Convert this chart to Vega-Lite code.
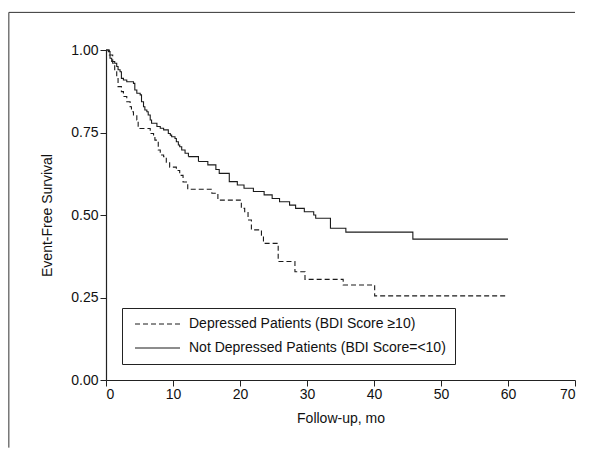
{
  "$schema": "https://vega.github.io/schema/vega-lite/v6.json",
  "width": 469,
  "height": 330,
  "autosize": {"type": "none"},
  "padding": {"left": 106, "top": 50, "right": 27, "bottom": 75},
  "background": "white",
  "config": {
    "view": {"stroke": null},
    "font": "Liberation Sans",
    "axis": {"labelFont": "Liberation Sans", "titleFont": "Liberation Sans", "labelColor": "#111", "titleColor": "#111", "titleFontWeight": "normal", "domainColor": "#222", "tickColor": "#222", "grid": false},
    "legend": {"labelFont": "Liberation Sans"}
  },
  "datasets": {
    "curves": [
      {"g": "Depressed Patients (BDI Score ≥10)", "t": 0, "s": 1.0},
      {"g": "Depressed Patients (BDI Score ≥10)", "t": 0.5, "s": 0.985},
      {"g": "Depressed Patients (BDI Score ≥10)", "t": 1.0, "s": 0.96},
      {"g": "Depressed Patients (BDI Score ≥10)", "t": 1.3, "s": 0.934},
      {"g": "Depressed Patients (BDI Score ≥10)", "t": 1.6, "s": 0.919},
      {"g": "Depressed Patients (BDI Score ≥10)", "t": 1.8, "s": 0.889},
      {"g": "Depressed Patients (BDI Score ≥10)", "t": 2.3, "s": 0.874},
      {"g": "Depressed Patients (BDI Score ≥10)", "t": 2.6, "s": 0.859},
      {"g": "Depressed Patients (BDI Score ≥10)", "t": 3.1, "s": 0.843},
      {"g": "Depressed Patients (BDI Score ≥10)", "t": 3.6, "s": 0.828},
      {"g": "Depressed Patients (BDI Score ≥10)", "t": 3.8, "s": 0.813},
      {"g": "Depressed Patients (BDI Score ≥10)", "t": 4.1, "s": 0.803},
      {"g": "Depressed Patients (BDI Score ≥10)", "t": 4.6, "s": 0.788},
      {"g": "Depressed Patients (BDI Score ≥10)", "t": 4.8, "s": 0.762},
      {"g": "Depressed Patients (BDI Score ≥10)", "t": 6.6, "s": 0.747},
      {"g": "Depressed Patients (BDI Score ≥10)", "t": 7.1, "s": 0.737},
      {"g": "Depressed Patients (BDI Score ≥10)", "t": 7.3, "s": 0.727},
      {"g": "Depressed Patients (BDI Score ≥10)", "t": 7.8, "s": 0.697},
      {"g": "Depressed Patients (BDI Score ≥10)", "t": 8.1, "s": 0.682},
      {"g": "Depressed Patients (BDI Score ≥10)", "t": 8.6, "s": 0.677},
      {"g": "Depressed Patients (BDI Score ≥10)", "t": 9.0, "s": 0.66},
      {"g": "Depressed Patients (BDI Score ≥10)", "t": 9.5, "s": 0.645},
      {"g": "Depressed Patients (BDI Score ≥10)", "t": 10.5, "s": 0.635},
      {"g": "Depressed Patients (BDI Score ≥10)", "t": 11.0, "s": 0.62},
      {"g": "Depressed Patients (BDI Score ≥10)", "t": 11.5, "s": 0.6},
      {"g": "Depressed Patients (BDI Score ≥10)", "t": 12.2, "s": 0.578},
      {"g": "Depressed Patients (BDI Score ≥10)", "t": 15.8, "s": 0.566},
      {"g": "Depressed Patients (BDI Score ≥10)", "t": 16.7, "s": 0.545},
      {"g": "Depressed Patients (BDI Score ≥10)", "t": 20.2, "s": 0.52},
      {"g": "Depressed Patients (BDI Score ≥10)", "t": 20.7, "s": 0.51},
      {"g": "Depressed Patients (BDI Score ≥10)", "t": 21.2, "s": 0.485},
      {"g": "Depressed Patients (BDI Score ≥10)", "t": 21.7, "s": 0.455},
      {"g": "Depressed Patients (BDI Score ≥10)", "t": 23.2, "s": 0.439},
      {"g": "Depressed Patients (BDI Score ≥10)", "t": 23.5, "s": 0.414},
      {"g": "Depressed Patients (BDI Score ≥10)", "t": 25.7, "s": 0.359},
      {"g": "Depressed Patients (BDI Score ≥10)", "t": 28.2, "s": 0.328},
      {"g": "Depressed Patients (BDI Score ≥10)", "t": 29.7, "s": 0.305},
      {"g": "Depressed Patients (BDI Score ≥10)", "t": 35.4, "s": 0.288},
      {"g": "Depressed Patients (BDI Score ≥10)", "t": 40.1, "s": 0.255},
      {"g": "Depressed Patients (BDI Score ≥10)", "t": 60, "s": 0.255},
      {"g": "Not Depressed Patients (BDI Score=<10)", "t": 0, "s": 1.0},
      {"g": "Not Depressed Patients (BDI Score=<10)", "t": 0.35, "s": 0.995},
      {"g": "Not Depressed Patients (BDI Score=<10)", "t": 0.6, "s": 0.975},
      {"g": "Not Depressed Patients (BDI Score=<10)", "t": 0.85, "s": 0.965},
      {"g": "Not Depressed Patients (BDI Score=<10)", "t": 1.3, "s": 0.96},
      {"g": "Not Depressed Patients (BDI Score=<10)", "t": 1.6, "s": 0.95},
      {"g": "Not Depressed Patients (BDI Score=<10)", "t": 1.8, "s": 0.94},
      {"g": "Not Depressed Patients (BDI Score=<10)", "t": 2.1, "s": 0.934},
      {"g": "Not Depressed Patients (BDI Score=<10)", "t": 2.3, "s": 0.914},
      {"g": "Not Depressed Patients (BDI Score=<10)", "t": 2.6, "s": 0.909},
      {"g": "Not Depressed Patients (BDI Score=<10)", "t": 3.1, "s": 0.904},
      {"g": "Not Depressed Patients (BDI Score=<10)", "t": 4.1, "s": 0.899},
      {"g": "Not Depressed Patients (BDI Score=<10)", "t": 4.3, "s": 0.879},
      {"g": "Not Depressed Patients (BDI Score=<10)", "t": 4.6, "s": 0.869},
      {"g": "Not Depressed Patients (BDI Score=<10)", "t": 5.1, "s": 0.864},
      {"g": "Not Depressed Patients (BDI Score=<10)", "t": 5.3, "s": 0.843},
      {"g": "Not Depressed Patients (BDI Score=<10)", "t": 5.6, "s": 0.828},
      {"g": "Not Depressed Patients (BDI Score=<10)", "t": 5.8, "s": 0.818},
      {"g": "Not Depressed Patients (BDI Score=<10)", "t": 6.1, "s": 0.813},
      {"g": "Not Depressed Patients (BDI Score=<10)", "t": 6.3, "s": 0.803},
      {"g": "Not Depressed Patients (BDI Score=<10)", "t": 6.6, "s": 0.788},
      {"g": "Not Depressed Patients (BDI Score=<10)", "t": 6.8, "s": 0.778},
      {"g": "Not Depressed Patients (BDI Score=<10)", "t": 7.6, "s": 0.768},
      {"g": "Not Depressed Patients (BDI Score=<10)", "t": 8.1, "s": 0.763},
      {"g": "Not Depressed Patients (BDI Score=<10)", "t": 8.6, "s": 0.758},
      {"g": "Not Depressed Patients (BDI Score=<10)", "t": 9.3, "s": 0.747},
      {"g": "Not Depressed Patients (BDI Score=<10)", "t": 9.6, "s": 0.742},
      {"g": "Not Depressed Patients (BDI Score=<10)", "t": 9.8, "s": 0.737},
      {"g": "Not Depressed Patients (BDI Score=<10)", "t": 10.3, "s": 0.732},
      {"g": "Not Depressed Patients (BDI Score=<10)", "t": 10.5, "s": 0.722},
      {"g": "Not Depressed Patients (BDI Score=<10)", "t": 10.8, "s": 0.712},
      {"g": "Not Depressed Patients (BDI Score=<10)", "t": 11.0, "s": 0.707},
      {"g": "Not Depressed Patients (BDI Score=<10)", "t": 11.3, "s": 0.697},
      {"g": "Not Depressed Patients (BDI Score=<10)", "t": 11.8, "s": 0.687},
      {"g": "Not Depressed Patients (BDI Score=<10)", "t": 12.3, "s": 0.677},
      {"g": "Not Depressed Patients (BDI Score=<10)", "t": 13.8, "s": 0.662},
      {"g": "Not Depressed Patients (BDI Score=<10)", "t": 15.2, "s": 0.652},
      {"g": "Not Depressed Patients (BDI Score=<10)", "t": 16.4, "s": 0.638},
      {"g": "Not Depressed Patients (BDI Score=<10)", "t": 16.9, "s": 0.626},
      {"g": "Not Depressed Patients (BDI Score=<10)", "t": 18.4, "s": 0.601},
      {"g": "Not Depressed Patients (BDI Score=<10)", "t": 19.6, "s": 0.591},
      {"g": "Not Depressed Patients (BDI Score=<10)", "t": 20.6, "s": 0.581},
      {"g": "Not Depressed Patients (BDI Score=<10)", "t": 22.0, "s": 0.571},
      {"g": "Not Depressed Patients (BDI Score=<10)", "t": 23.6, "s": 0.561},
      {"g": "Not Depressed Patients (BDI Score=<10)", "t": 24.8, "s": 0.55},
      {"g": "Not Depressed Patients (BDI Score=<10)", "t": 25.9, "s": 0.54},
      {"g": "Not Depressed Patients (BDI Score=<10)", "t": 27.4, "s": 0.53},
      {"g": "Not Depressed Patients (BDI Score=<10)", "t": 28.3, "s": 0.52},
      {"g": "Not Depressed Patients (BDI Score=<10)", "t": 29.6, "s": 0.51},
      {"g": "Not Depressed Patients (BDI Score=<10)", "t": 31.0, "s": 0.5},
      {"g": "Not Depressed Patients (BDI Score=<10)", "t": 31.3, "s": 0.49},
      {"g": "Not Depressed Patients (BDI Score=<10)", "t": 33.5, "s": 0.46},
      {"g": "Not Depressed Patients (BDI Score=<10)", "t": 35.8, "s": 0.448},
      {"g": "Not Depressed Patients (BDI Score=<10)", "t": 45.8, "s": 0.427},
      {"g": "Not Depressed Patients (BDI Score=<10)", "t": 60, "s": 0.427}
    ]
  },
  "layer": [
    {
      "data": {"values": [{}]},
      "mark": {"type": "rule", "color": "#333", "strokeWidth": 1},
      "encoding": {
        "x": {"datum": -14.5, "type": "quantitative", "scale": {"domain": [0, 70], "nice": false, "zero": false}},
        "y": {"datum": 1.114, "type": "quantitative", "scale": {"domain": [0, 1], "nice": false, "zero": false}},
        "y2": {"datum": -0.205}
      }
    },
    {
      "data": {"values": [{}]},
      "mark": {"type": "rule", "color": "#333", "strokeWidth": 1},
      "encoding": {
        "x": {"datum": -14.5, "type": "quantitative"},
        "x2": {"datum": 70},
        "y": {"datum": 1.114, "type": "quantitative"}
      }
    },
    {
      "data": {"name": "curves"},
      "mark": {"type": "line", "interpolate": "step-after", "color": "#1a1a1a", "strokeWidth": 1.1},
      "encoding": {
        "x": {
          "field": "t", "type": "quantitative",
          "scale": {"domain": [0, 70], "nice": false, "zero": false},
          "axis": {"values": [0, 10, 20, 30, 40, 50, 60, 70], "title": "Follow-up, mo", "labelFontSize": 14, "titleFontSize": 14, "tickSize": 6, "labelPadding": 1, "titlePadding": 10, "domainWidth": 1.2}
        },
        "y": {
          "field": "s", "type": "quantitative",
          "scale": {"domain": [0, 1], "nice": false, "zero": false},
          "axis": {"values": [0, 0.25, 0.5, 0.75, 1], "format": ".2f", "title": "Event-Free Survival", "labelFontSize": 14, "titleFontSize": 14, "tickSize": 6, "labelPadding": 2, "titlePadding": 16, "domainWidth": 1.2}
        },
        "strokeDash": {
          "field": "g", "type": "nominal",
          "scale": {"domain": ["Depressed Patients (BDI Score ≥10)", "Not Depressed Patients (BDI Score=<10)"], "range": [[5, 3], [1, 0]]},
          "legend": {
            "title": null, "orient": "none", "legendX": 16, "legendY": 258,
            "strokeColor": "#222", "fillColor": "white", "padding": 9,
            "symbolType": "M-0.5,0H7", "symbolSize": 144, "symbolStrokeWidth": 1, "symbolStrokeColor": "#1a1a1a",
            "labelFontSize": 14, "labelColor": "#111", "labelOffset": 44, "labelLimit": 400, "rowPadding": 10
          }
        },
        "order": {"field": "t", "type": "quantitative"}
      }
    }
  ]
}
